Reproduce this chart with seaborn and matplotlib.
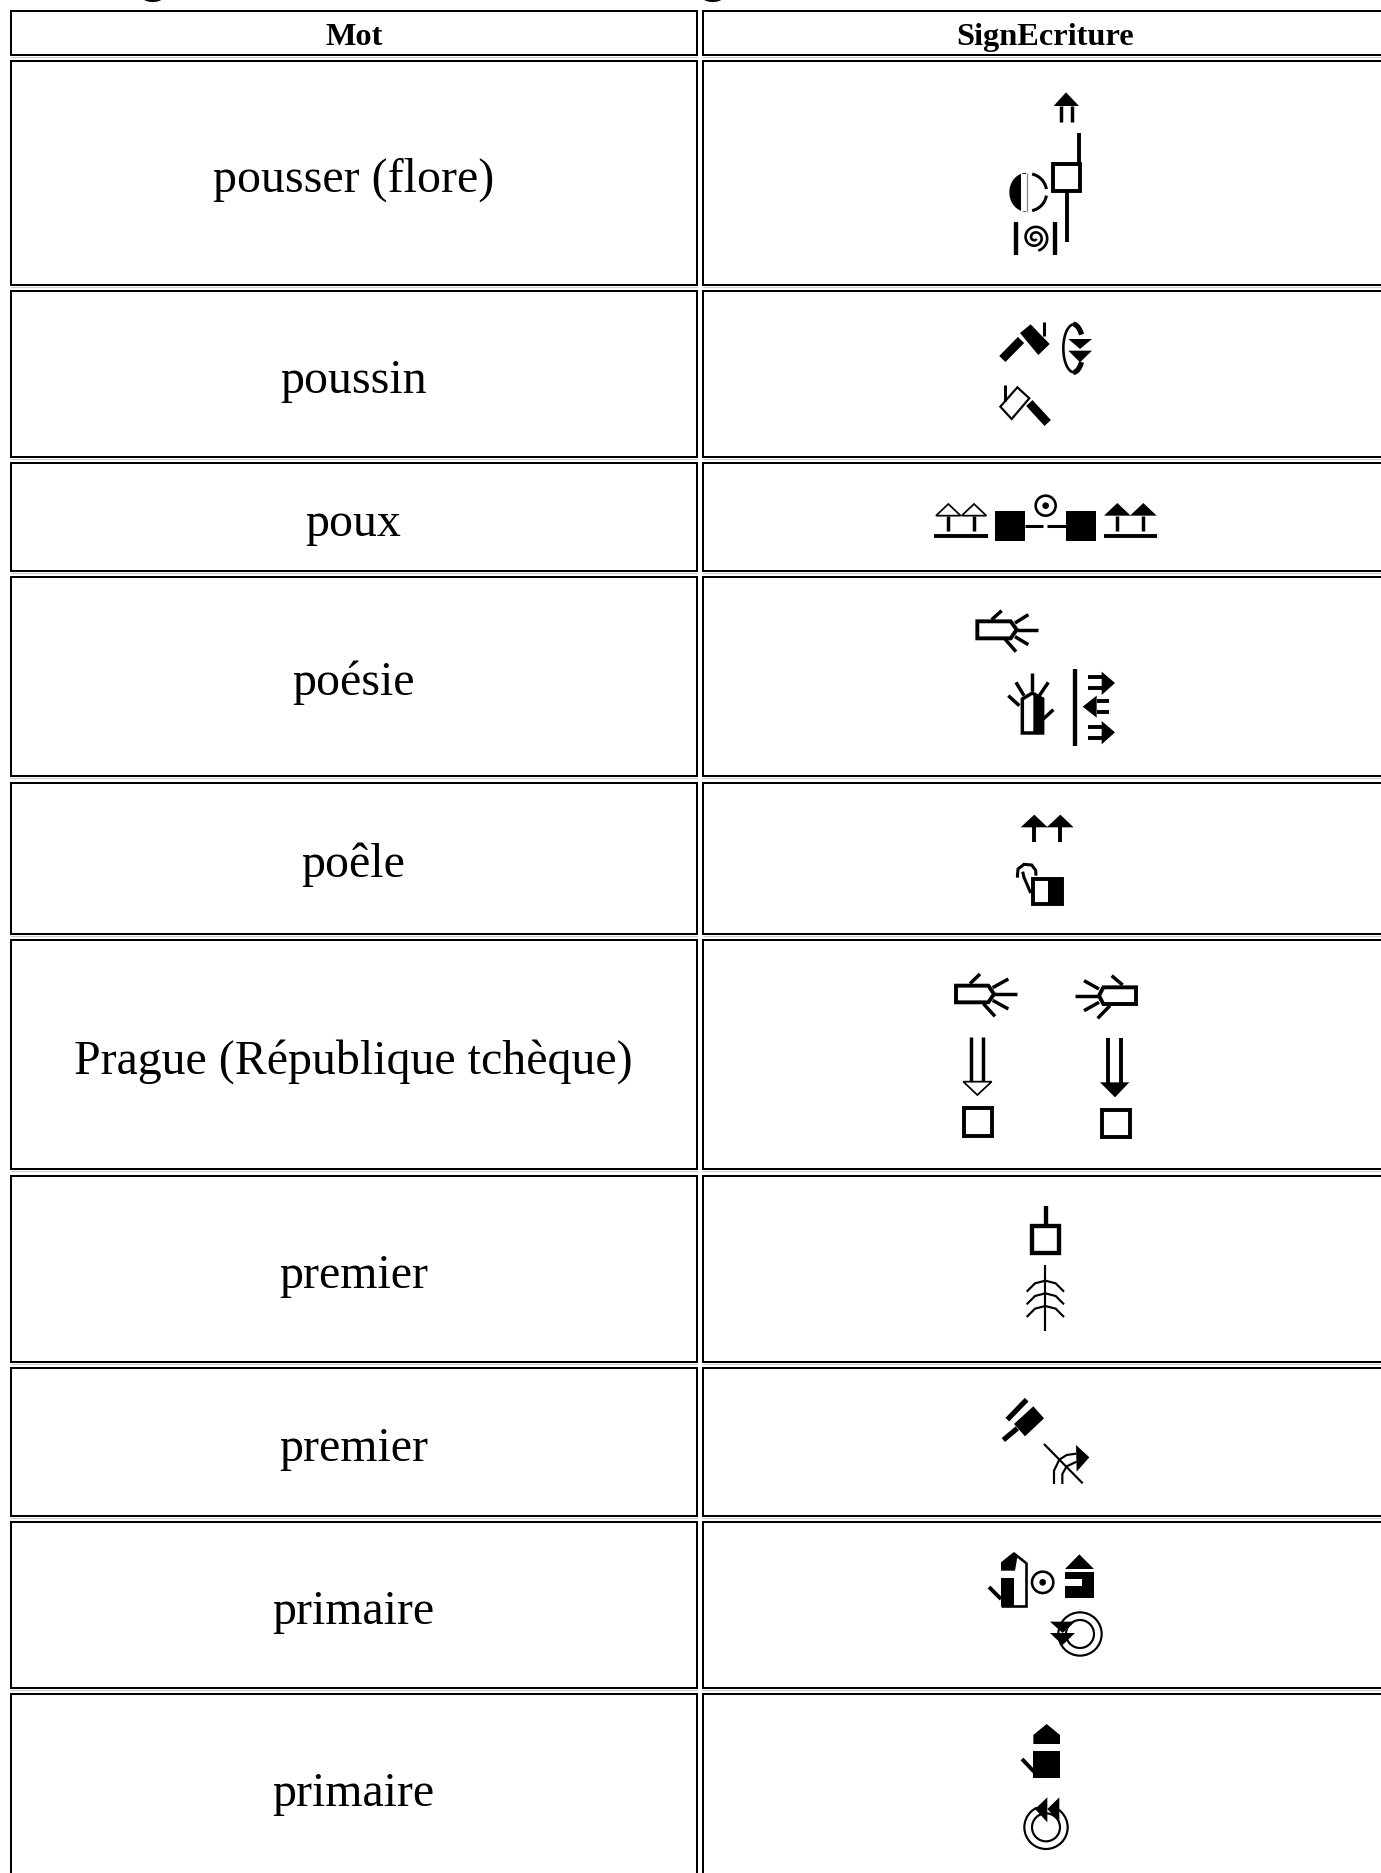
#!/usr/bin/env python3

import matplotlib
matplotlib.use("Agg")

import matplotlib.pyplot as plt
import numpy as np
import seaborn as sns
from matplotlib.patches import Circle, Polygon, Rectangle
from matplotlib.transforms import Affine2D

WIDTH = 1381
HEIGHT = 1874
DPI = 100

headers = ["Mot", "SignEcriture"]
words = [
    "pousser (flore)",
    "poussin",
    "poux",
    "poésie",
    "poêle",
    "Prague (République tchèque)",
    "premier",
    "premier",
    "primaire",
    "primaire",
]

# table geometry in image pixels
header_span = (12, 56)
row_spans = [
    (62, 286), (292, 458), (464, 572), (578, 777), (784, 935),
    (941, 1170), (1177, 1363), (1369, 1517), (1523, 1689), (1695, 1890),
]
col_spans = [(11, 697), (703, 1400)]

sns.set_theme(style="white")
plt.rcParams["font.family"] = ["Liberation Serif", "DejaVu Serif"]

fig = plt.figure(figsize=(WIDTH / DPI, HEIGHT / DPI), dpi=DPI)
ax = fig.add_axes([0, 0, 1, 1])
ax.set_xlim(0, WIDTH)
ax.set_ylim(HEIGHT, 0)
ax.axis("off")


def crop(x0, y0):
    return Affine2D().scale(1 / 3).translate(x0, y0) + ax.transData


def px(width):
    # the reference strokes are blurred and read a bit heavier than measured
    return 1.3 * width / 3 * 72 / DPI


def line(tr, pts, w=8, color="black"):
    xs, ys = zip(*pts)
    ax.plot(xs, ys, color=color, lw=px(w), transform=tr, solid_capstyle="butt", solid_joinstyle="miter", zorder=3)


def shape(tr, pts, fill="black", w=0.0):
    ax.add_patch(Polygon(pts, closed=True, facecolor=fill, edgecolor="black", lw=px(w), transform=tr, zorder=3))


def box(tr, x1, y1, x2, y2, w=9, fill="white"):
    shape(tr, [(x1, y1), (x2, y1), (x2, y2), (x1, y2)], fill=fill, w=w)


def ring(tr, x, y, r, w=5):
    ax.add_patch(Circle((x, y), r, facecolor="none", edgecolor="black", lw=px(w), transform=tr, zorder=3))


def dot(tr, x, y, r):
    ax.add_patch(Circle((x, y), r, facecolor="black", edgecolor="none", transform=tr, zorder=3))


def arc(tr, x, y, rx, ry, a1, a2, w=6):
    angles = np.radians(np.linspace(a1, a2, 40))
    line(tr, list(zip(x + rx * np.cos(angles), y - ry * np.sin(angles))), w)


def draw_table():
    for (x1, x2) in col_spans:
        for (y1, y2) in [header_span] + row_spans:
            ax.add_patch(Rectangle((x1, y1), x2 - x1, y2 - y1, facecolor="white", edgecolor="black", lw=2 * 72 / DPI, zorder=1))
            ax.plot([x1, x2], [y2 + 1.5, y2 + 1.5], color="#cccccc", lw=0.8, zorder=0.5)
    for (x1, x2), label in zip(col_spans, headers):
        center = (x1 + x2) / 2 if x2 < WIDTH else 1045
        ax.text(center, 45, label, ha="center", va="baseline", fontsize=23.3, fontweight="bold", color="black", zorder=4)
    for (y1, y2), word in zip(row_spans, words):
        middle = (y1 + y2) / 2 if y2 < HEIGHT else 1771
        if y2 >= HEIGHT:
            middle = 1788
        ax.text(353.5, middle + 18, word, ha="center", va="baseline", fontsize=34.5, color="black", zorder=4)


def draw_title_remains():
    # only the descenders of the page heading survive the crop at the top edge
    for x, char in [(153, "g"), (713, "g"), (895, ",")]:
        ax.text(x, -11, char, ha="center", va="baseline", fontsize=45, family=["Liberation Sans"], color="black", zorder=4)


def draw_hand_pointing(tr, outline, fingers, w=8):
    shape(tr, outline, fill="white", w=w + 1)
    for finger in fingers:
        line(tr, finger, w)


def draw_row_1_2():
    tr = crop(900, 60)
    shape(tr, [(461, 141), (498, 100), (537, 141)])
    line(tr, [(483, 140), (483, 188)], 8)
    line(tr, [(515, 140), (515, 188)], 8)
    box(tr, 458, 315, 540, 396)
    line(tr, [(538, 222), (538, 318)], 9)
    line(tr, [(501, 396), (501, 550)], 9)
    # half filled hand
    angles = np.radians(np.linspace(90, 270, 40))
    shape(tr, list(zip(378 + 50 * np.cos(angles), 400 + 58 * np.sin(angles))) + [(378, 458)], fill="black")
    box(tr, 364, 345, 378, 456, w=0, fill="white")
    line(tr, [(380, 342), (380, 458)], 3, color="#888888")
    arc(tr, 385, 400, 55, 56, 10, 78, 7)
    arc(tr, 385, 400, 55, 56, -10, -78, 7)
    # spiral between bars
    line(tr, [(349, 490), (349, 587)], 10)
    line(tr, [(465, 490), (465, 587)], 10)
    turns = np.linspace(0, 2.1 * 2 * np.pi, 120)
    radius = np.linspace(5, 40, 120)
    line(tr, list(zip(405 + radius * np.cos(turns + 0.7), 536 + radius * np.sin(turns + 0.7))), 6)

    shape(tr, [(360, 822), (392, 796), (449, 855), (415, 888)])
    line(tr, [(363, 843), (307, 900)], 20)
    line(tr, [(431, 790), (431, 832)], 7)
    arc(tr, 522, 868, 32, 72, 92, 268, 6)
    arc(tr, 520, 868, 30, 72, 35, 90, 12)
    arc(tr, 520, 868, 30, 72, -35, -90, 12)
    shape(tr, [(505, 840), (576, 840), (540, 870)])
    shape(tr, [(505, 875), (576, 875), (540, 910)])

    shape(tr, [(301, 1043), (352, 985), (388, 1018), (335, 1080)], fill="white", w=5)
    line(tr, [(316, 978), (316, 1026)], 7)
    line(tr, [(388, 1032), (443, 1092)], 20)


def draw_row_3_4_5():
    tr = crop(900, 500)
    for x in (145, 222):
        shape(tr, [(x - 37, 50), (x, 15), (x + 37, 50)], fill="white", w=4)
        line(tr, [(x, 50), (x, 95)], 8)
    line(tr, [(103, 112), (265, 112)], 9)
    box(tr, 285, 35, 375, 125, w=0, fill="black")
    box(tr, 497, 35, 587, 125, w=0, fill="black")
    line(tr, [(375, 82), (428, 82)], 7)
    line(tr, [(442, 82), (497, 82)], 7)
    ring(tr, 437, 20, 30, 6)
    dot(tr, 437, 20, 10)
    for x in (652, 730):
        shape(tr, [(x - 40, 50), (x, 12), (x + 40, 50)])
        line(tr, [(x, 50), (x, 95)], 8)
    line(tr, [(612, 112), (772, 112)], 9)

    draw_hand_pointing(
        tr,
        [(232, 367), (332, 367), (350, 392), (332, 418), (232, 418)],
        [[(275, 362), (305, 335)], [(345, 372), (385, 347)], [(350, 392), (415, 392)],
         [(345, 413), (385, 437)], [(315, 420), (348, 458)]],
    )
    shape(tr, [(367, 702), (367, 600), (397, 582), (428, 600), (428, 702)], fill="white", w=8)
    shape(tr, [(400, 702), (400, 585), (428, 600), (428, 702)])
    for finger in [[(395, 522), (395, 575)], [(348, 550), (372, 590)], [(445, 550), (418, 590)],
                   [(325, 590), (358, 620)], [(460, 632), (430, 660)]]:
        line(tr, finger, 8)
    line(tr, [(526, 510), (526, 742)], 10)
    for y1, y2, tip, tail, mid in [(535, 568, 645, 605, 552), (683, 716, 645, 605, 700)]:
        line(tr, [(563, y1), (tail, y1)], 9)
        line(tr, [(563, y2), (tail, y2)], 9)
        shape(tr, [(tail, mid - 34), (tip, mid), (tail, mid + 36)])
    line(tr, [(590, 607), (628, 607)], 9)
    line(tr, [(590, 640), (628, 640)], 9)
    shape(tr, [(590, 590), (548, 623), (590, 656)])

    for x in (403, 481):
        shape(tr, [(x - 41, 985), (x, 947), (x + 40, 985)])
        line(tr, [(x, 985), (x, 1030)], 9)
    box(tr, 400, 1140, 487, 1215)
    box(tr, 445, 1140, 487, 1215, w=0, fill="black")
    line(tr, [(392, 1182), (372, 1135), (368, 1118)], 7)
    line(tr, [(352, 1136), (354, 1110), (372, 1096), (395, 1098), (407, 1114), (408, 1130)], 7)


def draw_row_6_7():
    tr = crop(900, 960)
    draw_hand_pointing(
        tr,
        [(168, 80), (265, 80), (282, 105), (265, 130), (168, 130)],
        [[(210, 74), (240, 45)], [(278, 86), (325, 60)], [(282, 104), (350, 104)],
         [(278, 124), (325, 150)], [(250, 134), (285, 172)]],
    )
    draw_hand_pointing(
        tr,
        [(708, 85), (610, 85), (597, 110), (610, 135), (708, 135)],
        [[(668, 78), (635, 50)], [(597, 90), (552, 65)], [(597, 110), (525, 110)],
         [(597, 130), (552, 155)], [(630, 140), (593, 178)]],
    )
    line(tr, [(213, 233), (213, 368)], 8)
    line(tr, [(250, 233), (250, 368)], 8)
    shape(tr, [(190, 368), (275, 368), (232, 408)], fill="white", w=4)
    line(tr, [(625, 238), (625, 372)], 9)
    line(tr, [(663, 238), (663, 372)], 9)
    shape(tr, [(600, 370), (688, 370), (645, 415)])
    box(tr, 193, 448, 277, 530)
    box(tr, 605, 453, 690, 535)

    line(tr, [(438, 742), (438, 800)], 10)
    box(tr, 395, 800, 478, 882, w=10)
    line(tr, [(436, 917), (436, 1115)], 5)
    for shift in (0, 38, 76):
        line(tr, [(380, 998 + shift), (405, 973 + shift), (436, 965 + shift), (467, 973 + shift), (492, 998 + shift)], 5)


def draw_row_8_9_10():
    tr = crop(900, 1360)
    shape(tr, [(400, 142), (432, 178), (375, 232), (342, 195)])
    line(tr, [(322, 182), (380, 122)], 12)
    line(tr, [(352, 208), (310, 243)], 12)
    line(tr, [(432, 255), (548, 373)], 5)
    line(tr, [(462, 375), (462, 335), (478, 302), (500, 288), (528, 284)], 5)
    line(tr, [(487, 375), (487, 345), (500, 322), (530, 308)], 5)
    shape(tr, [(528, 258), (568, 295), (530, 338)])

    line(tr, [(378, 610), (378, 740), (303, 740)], 6)
    line(tr, [(340, 582), (378, 612)], 6)
    shape(tr, [(303, 635), (303, 610), (340, 580), (352, 595), (345, 635)])
    box(tr, 303, 658, 342, 742, w=0, fill="black")
    line(tr, [(267, 684), (303, 720)], 9)
    ring(tr, 428, 670, 32, 6)
    dot(tr, 428, 670, 10)
    shape(tr, [(495, 630), (538, 586), (582, 630)])
    box(tr, 495, 638, 582, 718, w=0, fill="black")
    box(tr, 495, 660, 545, 682, w=0, fill="white")
    ring(tr, 540, 825, 65, 5)
    ring(tr, 540, 825, 42, 5)
    shape(tr, [(450, 788), (525, 788), (488, 822)])
    shape(tr, [(450, 822), (525, 822), (488, 858)])

    shape(tr, [(400, 1128), (440, 1095), (480, 1128), (480, 1155), (400, 1155)])
    box(tr, 400, 1175, 480, 1258, w=0, fill="black")
    line(tr, [(366, 1200), (404, 1240)], 9)
    ring(tr, 438, 1405, 65, 5)
    ring(tr, 438, 1405, 42, 5)
    box(tr, 405, 1310, 480, 1345, w=0, fill="white")
    shape(tr, [(442, 1315), (405, 1350), (442, 1390)])
    shape(tr, [(478, 1315), (442, 1350), (478, 1390)])


draw_table()
draw_title_remains()
draw_row_1_2()
draw_row_3_4_5()
draw_row_6_7()
draw_row_8_9_10()

fig.savefig("out.png", dpi=DPI, facecolor="white")
